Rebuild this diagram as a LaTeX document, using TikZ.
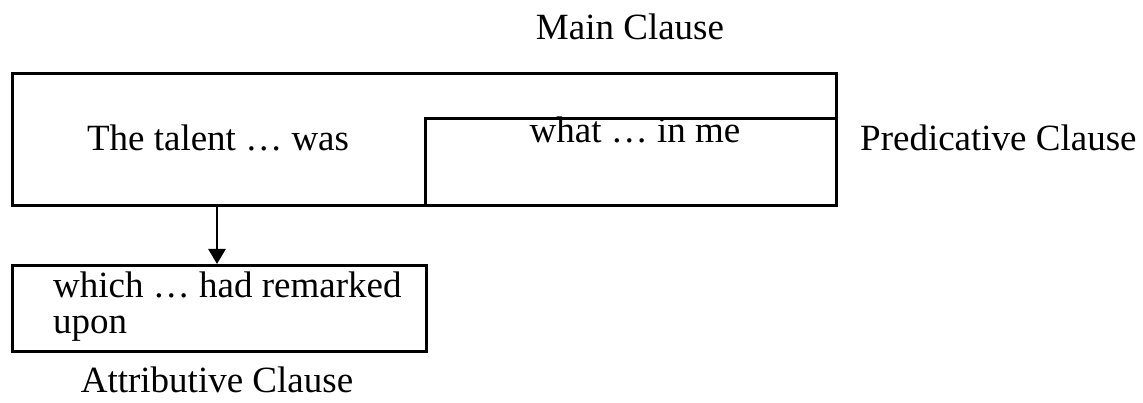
\documentclass[tikz,border=0pt]{standalone}
\usepackage{fontspec}
\setmainfont{Liberation Serif}
\usetikzlibrary{arrows.meta}
\begin{document}
\begin{tikzpicture}[x=1pt,y=-1pt,
  box/.style={draw, line width=2.6pt, rectangle, inner sep=0pt, anchor=north west},
  lbl/.style={inner sep=0pt, anchor=base, font=\fontsize{37}{41}\selectfont},
  arr/.style={line width=2.6pt, -{Triangle[length=15pt,width=17pt]}}]
  \useasboundingbox (0,0) rectangle (1143,403);
  % clause boxes
  \node[box, minimum width=824pt, minimum height=132pt] (main) at (11,72) {};
  \node[box, minimum width=411pt, minimum height=87pt] (pred) at (424,117) {};
  \node[box, minimum width=414pt, minimum height=86pt] (attr) at (11,264) {};
  % texts
  \node[lbl] (maint) at (630,40) {Main Clause};
  \node[lbl] (talent) at (218,151) {The talent … was};
  \node[lbl] (what) at (635,143) {what … in me};
  \node[lbl, anchor=base west] (predt) at (860,151) {Predicative Clause};
  \node[lbl, anchor=base west] (which) at (53,298) {which … had remarked};
  \node[lbl, anchor=base west] (upon) at (53,333) {upon};
  \node[lbl] (attrt) at (217,392) {Attributive Clause};
  % link from the main clause to the attributive clause
  \coordinate (ax) at (217,0);
  \draw[arr] (main.south -| ax) -- (attr.north -| ax);
\end{tikzpicture}
\end{document}
